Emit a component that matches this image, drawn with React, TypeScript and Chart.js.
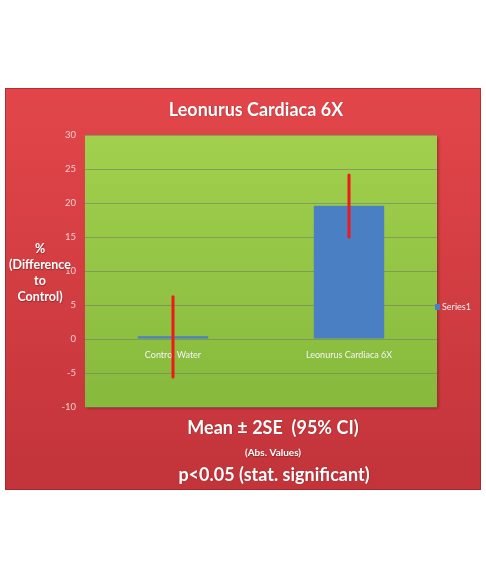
import React, { useEffect, useRef } from "react";
import { Chart, registerables, Plugin } from "chart.js";

Chart.register(...registerables);

// values
const categories = ["Control Water", "Leonurus Cardiaca 6X"];
const means = [0.4, 19.6];
const errLow = [-5.6, 15.0];
const errHigh = [6.2, 24.1];
const yMin = -10;
const yMax = 30;
const yStep = 5;

const seriesName = "Series1";
const chartTitle = "Leonurus Cardiaca 6X";
const yTitleLines = ["%", "(Difference", "to", "Control)"];
const footLines = ["Mean ± 2SE  (95% CI)", "(Abs. Values)", "p<0.05 (stat. significant)"];

const FONT = "Lato, 'Open Sans', sans-serif";

export default function App() {
  const canvasRef = useRef<HTMLCanvasElement>(null);

  useEffect(() => {
    const ctx = canvasRef.current?.getContext("2d");
    if (!ctx) return;

    // red panel + green plot background
    const backdrop: Plugin<"bar"> = {
      id: "backdrop",
      beforeDraw(chart) {
        const c = chart.ctx;
        const { left, top, right, bottom } = chart.chartArea;
        c.save();
        const red = c.createLinearGradient(0, 88, 0, 490);
        red.addColorStop(0, "#e2464a");
        red.addColorStop(1, "#c2343a");
        c.fillStyle = red;
        c.fillRect(5, 88, 476, 402);
        c.strokeStyle = "rgba(150,30,35,0.6)";
        c.lineWidth = 1;
        c.strokeRect(5.5, 88.5, 475, 401);

        c.shadowColor = "rgba(80,20,20,0.45)";
        c.shadowBlur = 3;
        c.shadowOffsetX = 1.5;
        c.shadowOffsetY = 1.5;
        const green = c.createLinearGradient(0, top, 0, bottom);
        green.addColorStop(0, "#a2d04e");
        green.addColorStop(1, "#86b93c");
        c.fillStyle = green;
        c.fillRect(left, top, right - left, bottom - top);
        c.restore();
      },
    };

    // error bars, texts, legend
    const overlay: Plugin<"bar"> = {
      id: "overlay",
      afterDatasetsDraw(chart) {
        const c = chart.ctx;
        const x = chart.scales.x;
        const y = chart.scales.y;
        c.save();
        c.strokeStyle = "#f01818";
        c.lineWidth = 3;
        c.lineCap = "round";
        categories.forEach((_, i) => {
          const px = x.getPixelForValue(i);
          c.beginPath();
          c.moveTo(px, y.getPixelForValue(errHigh[i]));
          c.lineTo(px, y.getPixelForValue(errLow[i]));
          c.stroke();
        });
        c.restore();
      },
      afterDraw(chart) {
        const c = chart.ctx;
        c.save();
        c.fillStyle = "#ffffff";
        c.textAlign = "center";
        c.textBaseline = "middle";
        c.shadowColor = "rgba(90,20,20,0.5)";
        c.shadowBlur = 1;
        c.shadowOffsetX = 0.5;
        c.shadowOffsetY = 0.5;

        c.font = `bold 18px ${FONT}`;
        c.fillText(chartTitle, 256, 110);

        c.font = `bold 12.5px ${FONT}`;
        yTitleLines.forEach((t, i) => c.fillText(t, 40, 249 + i * 16));

        c.font = `bold 18px ${FONT}`;
        c.fillText(footLines[0], 273, 428);
        c.font = `bold 10px ${FONT}`;
        c.fillText(footLines[1], 273, 453);
        c.font = `bold 18px ${FONT}`;
        c.fillText(footLines[2], 274, 475);

        // legend
        c.shadowColor = "transparent";
        c.fillStyle = "#4a7fc4";
        c.fillRect(435, 304, 5, 6);
        c.fillStyle = "#f4f4f4";
        c.textAlign = "left";
        c.font = `9px ${FONT}`;
        c.fillText(seriesName, 442, 307.5);
        c.restore();
      },
    };

    const chart = new Chart(ctx, {
      type: "bar",
      data: {
        labels: categories,
        datasets: [
          {
            label: seriesName,
            data: means,
            backgroundColor: "#4a7fc4",
            borderColor: "#4476bb",
            borderWidth: 0,
            barPercentage: 0.8,
            categoryPercentage: 0.5,
          },
        ],
      },
      options: {
        responsive: true,
        maintainAspectRatio: false,
        animation: false,
        layout: { padding: { left: 55, right: 49, top: 135, bottom: 176 } },
        scales: {
          x: {
            position: { y: 0 },
            grid: { display: false },
            border: { display: false },
            ticks: {
              color: "#f4f4f4",
              font: { family: FONT, size: 9 },
              padding: 3,
              maxRotation: 0,
            },
          },
          y: {
            min: yMin,
            max: yMax,
            afterFit(scale) {
              scale.width = 30;
            },
            grid: { color: "rgba(110,120,100,0.55)", drawTicks: false },
            border: { display: false },
            ticks: {
              stepSize: yStep,
              color: "rgba(255,220,220,0.9)",
              font: { family: FONT, size: 9.5 },
              padding: 9,
            },
          },
        },
        plugins: {
          legend: { display: false },
          title: { display: false },
          tooltip: { enabled: false },
        },
      },
      plugins: [backdrop, overlay],
    });

    return () => chart.destroy();
  }, []);

  return (
    <div style={{ position: "fixed", left: 0, top: 0, width: 486, height: 583, background: "#ffffff" }}>
      <canvas ref={canvasRef} />
    </div>
  );
}
